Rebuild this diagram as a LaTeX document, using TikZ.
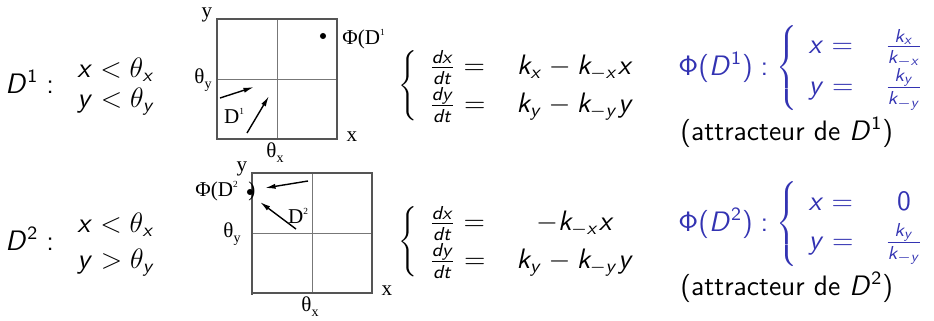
\documentclass[tikz,border=0pt]{standalone}
\usepackage[no-math]{fontspec}
\newfontfamily\plotfont{Liberation Serif}
\usepackage{tikz}
\usetikzlibrary{arrows.meta}
\definecolor{STRUCT}{rgb}{0.2,0.2,0.7}
\definecolor{AXIS}{HTML}{555555}
\definecolor{MID}{HTML}{777777}
% sans math letters, as on the slide
\DeclareSymbolFont{sfit}{OT1}{cmss}{m}{sl}
\DeclareSymbolFont{sfup}{OT1}{cmss}{m}{n}
\DeclareMathSymbol{d}{\mathalpha}{sfit}{`d}
\DeclareMathSymbol{t}{\mathalpha}{sfit}{`t}
\DeclareMathSymbol{k}{\mathalpha}{sfit}{`k}
\DeclareMathSymbol{x}{\mathalpha}{sfit}{`x}
\DeclareMathSymbol{y}{\mathalpha}{sfit}{`y}
\DeclareMathSymbol{D}{\mathalpha}{sfit}{`D}
\DeclareMathSymbol{0}{\mathalpha}{sfup}{`0}
\DeclareMathSymbol{1}{\mathalpha}{sfup}{`1}
\DeclareMathSymbol{2}{\mathalpha}{sfup}{`2}
\DeclareMathSymbol{:}{\mathrel}{sfup}{`:}
\DeclareMathSymbol{\Phi}{\mathalpha}{sfup}{"08}
\DeclareMathDelimiter{(}{\mathopen}{sfup}{"28}{largesymbols}{"00}
\DeclareMathDelimiter{)}{\mathclose}{sfup}{"29}{largesymbols}{"01}
\newcommand\thsub[2]{#1\raisebox{-0.5ex}{\fontsize{6}{6}\selectfont #2}}
\newcommand\thsup[2]{#1\raisebox{0.9ex}{\fontsize{4}{4}\selectfont #2}}

\begin{document}
\begin{tikzpicture}[
    x=0.15mm, y=-0.15mm,
    txt/.style={font=\fontsize{12}{14.5}\selectfont\sffamily, inner sep=0pt},
    phi/.style={txt, text=STRUCT},
    lbl/.style={font=\plotfont\fontsize{9}{9}\selectfont, inner sep=0pt},
    frame/.style={draw=AXIS, line width=0.5pt},
    midline/.style={draw=MID, line width=0.4pt},
    flow/.style={-{Latex[length=4.5pt,width=2.2pt]}, line width=0.6pt},
    fixpt/.style={circle, fill=black, inner sep=0pt, minimum size=2.6pt},
  ]
  \useasboundingbox (0,0) rectangle (934,320);

  % domains
  \node[txt, anchor=base west] (dom1) at (5,93) {$D^1 :$};
  \node[txt, anchor=base west] (c1x) at (77,77) {$x<\theta_x$};
  \node[txt, anchor=base west] (c1y) at (77,107) {$y<\theta_y$};
  \node[txt, anchor=base west] (dom2) at (5,250) {$D^2 :$};
  \node[txt, anchor=base west] (c2x) at (77,232) {$x<\theta_x$};
  \node[txt, anchor=base west] (c2y) at (77,268) {$y>\theta_y$};

  % phase plots
  \foreach \p/\ox/\oy/\ty in {1/217/19/-14, 2/252/173/-20} {
    \begin{scope}[shift={(\ox,\oy)}]
      \draw[midline] (60,0) -- (60,120) (0,60) -- (120,60);
      \draw[frame] (0,0) rectangle (120,120);
      \node[lbl] (ylab\p) at (-10,-4) {y};
      \node[lbl] (xlab\p) at (135,118) {x};
      \node[lbl] (thx\p) at (58,134) {\thsub{θ}{x}};
      \node[lbl] (thy\p) at (\ty,61) {\thsub{θ}{y}};
    \end{scope}
  }
  \draw[AXIS, line width=0.9pt] (252,173) -- (252,295);

  % plot 1
  \node[fixpt] (fix1) at (323,36) {};
  \node[lbl, anchor=west] (pl1) at (342,39) {Φ(\thsup{D}{1}};
  \node[lbl] (dl1) at (234,116) {\thsup{D}{1}};
  \coordinate (a1s) at (220,98);  \coordinate (a1e) at (254,87);
  \coordinate (b1s) at (247,133); \coordinate (b1e) at (269,96);
  \draw[flow] (a1s) -- (a1e);
  \draw[flow] (b1s) -- (b1e);

  % plot 2
  \node[lbl, anchor=west] (pl2) at (195,191) {Φ(\thsup{D}{2}};
  \node[fixpt] (fix2) at (250,192) {};
  \node[lbl] (par2) at (252,191) {)};
  \node[lbl] (dl2) at (298,216) {\thsup{D}{2}};
  \coordinate (a2s) at (308,181); \coordinate (a2e) at (265,188);
  \coordinate (b2s) at (296,229); \coordinate (b2e) at (260,202);
  \draw[flow] (a2s) -- (a2e);
  \draw[flow] (b2s) -- (b2e);

  % systems
  \node[txt, anchor=west] (sys1) at (398,86)
    {$\renewcommand\arraystretch{1.12}\left\{\begin{array}{lc} \frac{dx}{dt} ={} & k_x - k_{-x}x \\ \frac{dy}{dt} ={} & k_y - k_{-y}y \end{array}\right.$};
  \node[txt, anchor=west] (sys2) at (398,242)
    {$\renewcommand\arraystretch{1.12}\left\{\begin{array}{lc} \frac{dx}{dt} ={} & -k_{-x}x \\ \frac{dy}{dt} ={} & k_y - k_{-y}y \end{array}\right.$};

  % attractors
  \node[phi, anchor=west] (att1) at (678,68)
    {$\renewcommand\arraystretch{1.15}\Phi(D^1) : \left\{\begin{array}{lc} x ={} & \frac{k_x}{k_{-x}} \\ y ={} & \frac{k_y}{k_{-y}} \end{array}\right.$};
  \node[txt, anchor=base west] (note1) at (680,140) {(attracteur de $D^1$)};
  \node[phi, anchor=west] (att2) at (678,224)
    {$\renewcommand\arraystretch{1.15}\Phi(D^2) : \left\{\begin{array}{lc} x ={} & 0 \\ y ={} & \frac{k_y}{k_{-y}} \end{array}\right.$};
  \node[txt, anchor=base west] (note2) at (680,295) {(attracteur de $D^2$)};
\end{tikzpicture}
\end{document}
